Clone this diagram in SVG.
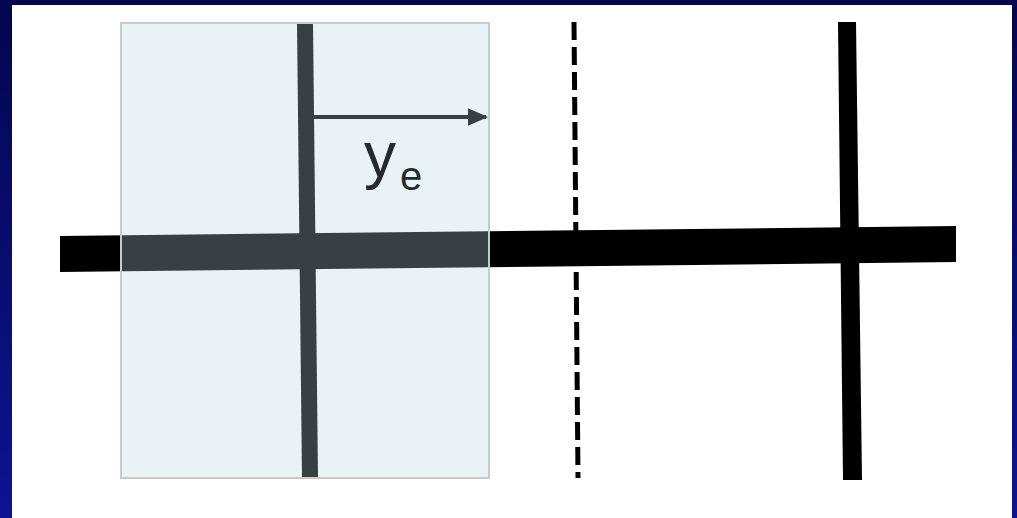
<svg xmlns="http://www.w3.org/2000/svg" width="1017" height="518" viewBox="0 0 1017 518">
  <defs>
    <linearGradient id="bg" x1="0" y1="0" x2="0" y2="1">
      <stop offset="0" stop-color="#04064f"/>
      <stop offset="1" stop-color="#0c1492"/>
    </linearGradient>
    <marker id="arrowhead" markerWidth="5" markerHeight="5" refX="4.5" refY="2.5" orient="auto" markerUnits="strokeWidth">
      <path d="M0,0.3 L5,2.5 L0,4.7 Z" fill="#000"/>
    </marker>
  </defs>
  <style>
    .bar { fill: #000; }
    .dash { stroke: #000; stroke-width: 5; stroke-dasharray: 18 7; fill: none; }
    .arrow { stroke: #000; stroke-width: 4; fill: none; }
    .label { font-family: "Liberation Sans", Arial, sans-serif; fill: #262a2c; }
    .box { fill: #b5d6dd; fill-opacity: 0.3; stroke: #c6cbcb; stroke-width: 2; }
  </style>
  <rect x="0" y="0" width="1017" height="518" fill="url(#bg)"/>
  <rect x="12" y="5" width="1000" height="513" fill="#ffffff"/>

  <g id="horizontal-bar">
    <polygon class="bar" points="60,236 956,226 956,262 60,272"/>
  </g>
  <g id="line-left">
    <polygon class="bar" points="297,23 313,23 318,478 302,478"/>
  </g>
  <g id="line-dashed">
    <line class="dash" x1="574" y1="22" x2="578" y2="478"/>
  </g>
  <g id="line-right">
    <polygon class="bar" points="838,22 856,22 862,480 843,480"/>
  </g>
  <g id="connectors">
    <line class="arrow" x1="314" y1="117" x2="486" y2="117" marker-end="url(#arrowhead)"/>
  </g>
  <g id="shaded-region">
    <rect class="box" x="121" y="23" width="368" height="455"/>
  </g>
  <g id="label-ye">
    <text class="label" x="364" y="177" font-size="64">y</text>
    <text class="label" x="400" y="190" font-size="40">e</text>
  </g>
</svg>
